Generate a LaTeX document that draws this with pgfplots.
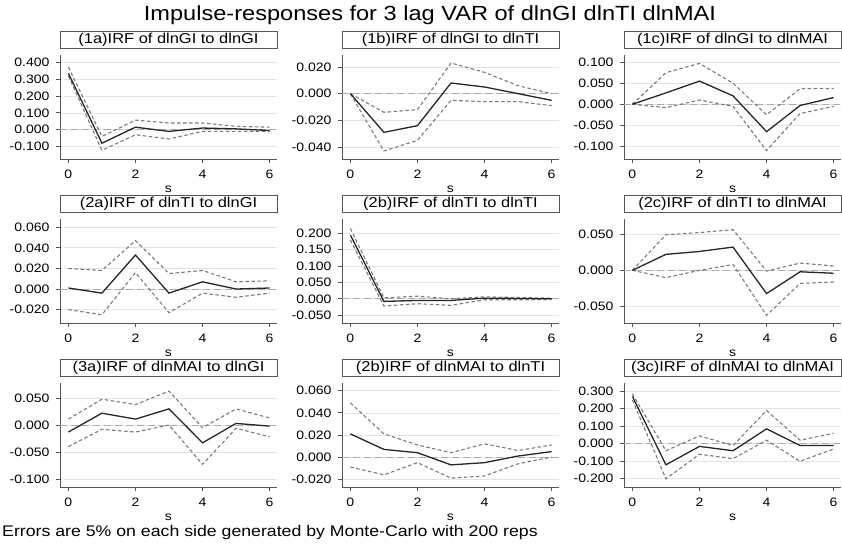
\documentclass[border=0pt]{standalone}
\usepackage{pgfplots}
\pgfplotsset{compat=1.18}
\usepackage{pgfplotstable}
\usepackage{fontspec}
\setmainfont{Liberation Sans}[FakeStretch=1.15]
\definecolor{axisgray}{HTML}{555555}
\definecolor{gridgray}{HTML}{E3E3E3}
\definecolor{cigray}{HTML}{7A7A7A}
\definecolor{irfblack}{HTML}{262626}

\pgfplotstableread{
s irf lo hi
0 0.335 0.320 0.372
1 -0.080 -0.122 -0.040
2 0.015 -0.030 0.057
3 -0.010 -0.055 0.040
4 0.010 -0.010 0.040
5 0.005 -0.010 0.020
6 -0.005 -0.010 0.015
}\Ta
\pgfplotstableread{
s irf lo hi
0 0 0 0
1 -0.029 -0.043 -0.014
2 -0.024 -0.035 -0.012
3 0.008 -0.005 0.023
4 0.005 -0.006 0.016
5 0.000 -0.006 0.006
6 -0.005 -0.009 0.000
}\Tb
\pgfplotstableread{
s irf lo hi
0 0 0 0
1 0.027 -0.008 0.075
2 0.055 0.010 0.097
3 0.020 -0.005 0.050
4 -0.065 -0.110 -0.025
5 -0.003 -0.022 0.037
6 0.016 -0.005 0.037
}\Tc
\pgfplotstableread{
s irf lo hi
0 0.001 -0.020 0.020
1 -0.004 -0.025 0.018
2 0.033 0.016 0.047
3 -0.004 -0.023 0.015
4 0.007 -0.004 0.018
5 0.000 -0.008 0.007
6 0.001 -0.004 0.008
}\Td
\pgfplotstableread{
s irf lo hi
0 0.195 0.180 0.215
1 -0.008 -0.022 0.003
2 -0.005 -0.015 0.008
3 -0.005 -0.020 0.000
4 0.002 -0.003 0.006
5 0.001 -0.003 0.004
6 0.000 -0.002 0.002
}\Te
\pgfplotstableread{
s irf lo hi
0 0 0 0
1 0.022 -0.010 0.049
2 0.026 0.000 0.052
3 0.032 0.008 0.056
4 -0.032 -0.062 -0.001
5 -0.002 -0.018 0.010
6 -0.004 -0.016 0.006
}\Tf
\pgfplotstableread{
s irf lo hi
0 -0.013 -0.040 0.011
1 0.022 -0.008 0.048
2 0.011 -0.013 0.038
3 0.030 0.000 0.063
4 -0.033 -0.073 -0.005
5 0.003 -0.006 0.030
6 -0.002 -0.022 0.013
}\Tg
\pgfplotstableread{
s irf lo hi
0 0.021 -0.009 0.049
1 0.007 -0.016 0.021
2 0.004 -0.005 0.011
3 -0.007 -0.019 0.004
4 -0.005 -0.017 0.012
5 0.001 -0.006 0.006
6 0.005 0.000 0.011
}\Th
\pgfplotstableread{
s irf lo hi
0 0.270 0.250 0.285
1 -0.120 -0.200 -0.040
2 -0.015 -0.060 0.045
3 -0.040 -0.085 -0.010
4 0.085 0.020 0.190
5 -0.010 -0.100 0.020
6 -0.010 -0.030 0.060
}\Ti

\pgfplotsset{
  panel/.style={
    scale only axis, width=217pt, height=104pt, anchor=south west,
    xmin=-0.25, xmax=6.22,
    scaled y ticks=false, scaled x ticks=false,
    axis lines=left, axis line style={-, draw=axisgray, line width=0.8pt},
    tick align=outside, major tick length=4pt,
    tick style={draw=axisgray, line width=0.8pt},
    xtick={0,2,4,6}, xticklabels={0,2,4,6},
    ymajorgrids, major grid style={draw=gridgray, line width=0.7pt},
    extra y ticks={0}, extra y tick labels={},
    extra y tick style={major tick length=0pt, grid=major,
      major grid style={draw=gray!65, dash pattern=on 7pt off 4pt, line width=0.7pt}},
    ticklabel style={font=\fontsize{12.2pt}{14pt}\selectfont, text=black},
    yticklabel style={xshift=-3pt},
    xticklabel style={anchor=center, yshift=-11pt},
    xlabel={s}, xlabel style={font=\fontsize{12.2pt}{14pt}\selectfont,
      at={(axis description cs:0.5,0)}, anchor=center, yshift=-30pt},
    title style={draw=axisgray, line width=0.8pt, fill=white, at={(0.5,1)}, anchor=south,
      minimum width=217pt, minimum height=17pt, inner sep=0pt, yshift=0pt,
      font=\fontsize{14.3pt}{16pt}\selectfont},
    clip=false,
  },
  irf/.style={draw=irfblack, line width=1.3pt, no markers},
  ci/.style={draw=cigray, line width=1.1pt, dash pattern=on 3.5pt off 2.5pt, no markers},
}

\begin{document}
\begin{tikzpicture}
\path[use as bounding box] (0,0) rectangle (842pt,-545pt);
\node[font=\fontsize{20.5pt}{24pt}\selectfont] at (430pt,-15pt) {Impulse-responses for 3 lag VAR of dlnGI dlnTI dlnMAI};
\node[font=\fontsize{15.4pt}{17pt}\selectfont, anchor=west, inner sep=0pt] at (2pt,-533pt) {Errors are 5\% on each side generated by Monte-Carlo with 200 reps};

% Row 1
\begin{axis}[panel, at={(60pt,-159pt)}, ymin=-0.174, ymax=0.444,
  ytick={-0.1,0,0.1,0.2,0.3,0.4}, yticklabels={-0.100,0.000,0.100,0.200,0.300,0.400},
  title={(1a)IRF of dlnGI to dlnGI}]
\addplot[ci] table[x=s,y=hi]{\Ta};
\addplot[ci] table[x=s,y=lo]{\Ta};
\addplot[irf] table[x=s,y=irf]{\Ta};
\end{axis}
\begin{axis}[panel, at={(342pt,-159pt)}, ymin=-0.049, ymax=0.029,
  ytick={-0.04,-0.02,0,0.02}, yticklabels={-0.040,-0.020,0.000,0.020},
  title={(1b)IRF of dlnGI to dlnTI}]
\addplot[ci] table[x=s,y=hi]{\Tb};
\addplot[ci] table[x=s,y=lo]{\Tb};
\addplot[irf] table[x=s,y=irf]{\Tb};
\end{axis}
\begin{axis}[panel, at={(624pt,-159pt)}, ymin=-0.130, ymax=0.117,
  ytick={-0.1,-0.05,0,0.05,0.1}, yticklabels={-0.100,-0.050,0.000,0.050,0.100},
  title={(1c)IRF of dlnGI to dlnMAI}]
\addplot[ci] table[x=s,y=hi]{\Tc};
\addplot[ci] table[x=s,y=lo]{\Tc};
\addplot[irf] table[x=s,y=irf]{\Tc};
\end{axis}

% Row 2
\begin{axis}[panel, at={(60pt,-323pt)}, ymin=-0.033, ymax=0.068,
  ytick={-0.02,0,0.02,0.04,0.06}, yticklabels={-0.020,0.000,0.020,0.040,0.060},
  title={(2a)IRF of dlnTI to dlnGI}]
\addplot[ci] table[x=s,y=hi]{\Td};
\addplot[ci] table[x=s,y=lo]{\Td};
\addplot[irf] table[x=s,y=irf]{\Td};
\end{axis}
\begin{axis}[panel, at={(342pt,-323pt)}, ymin=-0.074, ymax=0.244,
  ytick={-0.05,0,0.05,0.1,0.15,0.2}, yticklabels={-0.050,0.000,0.050,0.100,0.150,0.200},
  title={(2b)IRF of dlnTI to dlnTI}]
\addplot[ci] table[x=s,y=hi]{\Te};
\addplot[ci] table[x=s,y=lo]{\Te};
\addplot[irf] table[x=s,y=irf]{\Te};
\end{axis}
\begin{axis}[panel, at={(624pt,-323pt)}, ymin=-0.0725, ymax=0.0707,
  ytick={-0.05,0,0.05}, yticklabels={-0.050,0.000,0.050},
  title={(2c)IRF of dlnTI to dlnMAI}]
\addplot[ci] table[x=s,y=hi]{\Tf};
\addplot[ci] table[x=s,y=lo]{\Tf};
\addplot[irf] table[x=s,y=irf]{\Tf};
\end{axis}

% Row 3
\begin{axis}[panel, at={(60pt,-487pt)}, ymin=-0.115, ymax=0.078,
  ytick={-0.1,-0.05,0,0.05}, yticklabels={-0.100,-0.050,0.000,0.050},
  title={(3a)IRF of dlnMAI to dlnGI}]
\addplot[ci] table[x=s,y=hi]{\Tg};
\addplot[ci] table[x=s,y=lo]{\Tg};
\addplot[irf] table[x=s,y=irf]{\Tg};
\end{axis}
\begin{axis}[panel, at={(342pt,-487pt)}, ymin=-0.027, ymax=0.067,
  ytick={-0.02,0,0.02,0.04,0.06}, yticklabels={-0.020,0.000,0.020,0.040,0.060},
  title={(2b)IRF of dlnMAI to dlnTI}]
\addplot[ci] table[x=s,y=hi]{\Th};
\addplot[ci] table[x=s,y=lo]{\Th};
\addplot[irf] table[x=s,y=irf]{\Th};
\end{axis}
\begin{axis}[panel, at={(624pt,-487pt)}, ymin=-0.247, ymax=0.347,
  ytick={-0.2,-0.1,0,0.1,0.2,0.3}, yticklabels={-0.200,-0.100,0.000,0.100,0.200,0.300},
  title={(3c)IRF of dlnMAI to dlnMAI}]
\addplot[ci] table[x=s,y=hi]{\Ti};
\addplot[ci] table[x=s,y=lo]{\Ti};
\addplot[irf] table[x=s,y=irf]{\Ti};
\end{axis}
\end{tikzpicture}
\end{document}
